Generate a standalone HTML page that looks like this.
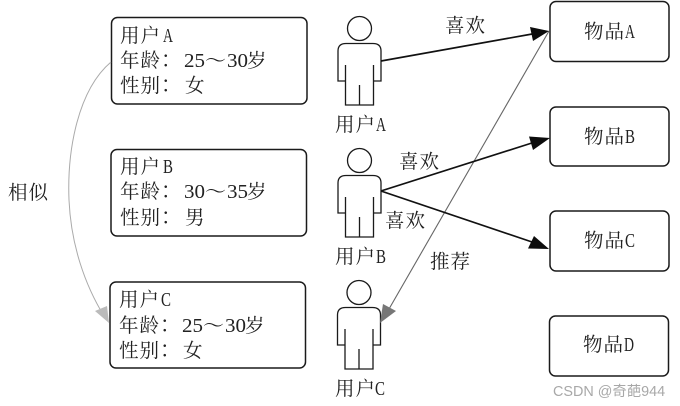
<!DOCTYPE html>
<html><head><meta charset="utf-8"><style>
html,body{margin:0;padding:0;background:#fff}
svg{display:block}
text{font-family:"Noto Serif CJK SC","Liberation Serif",serif;font-size:19.500px;fill:#222;filter:blur(.2px)}
.l{font-family:"Liberation Serif",serif;font-size:20.500px}
.c{font-family:"Noto Serif CJK TC",serif}
rect{fill:#fff;stroke:#1a1a1a;stroke-width:1.5}
.p{fill:#fff;stroke:#1a1a1a;stroke-width:1.300}
</style></head><body>
<svg width="680" height="406" viewBox="0 0 680 406" xmlns="http://www.w3.org/2000/svg">
<defs>
<g id="person">
<circle cx="359.500" cy="28.500" r="12"/>
<path d="M345 81H338V51Q338 43.500 346 43.500H373Q381 43.500 381 51V81H373.500"/>
<path d="M345.500 65V105H373.500V65M359.500 85V105"/>
</g>
</defs>
<rect x="111.500" y="17.500" width="195.500" height="86.500" rx="6"/>
<rect x="111" y="149.500" width="195.500" height="86.500" rx="6"/>
<rect x="110" y="282" width="195.500" height="86" rx="6"/>
<rect x="550" y="1.500" width="119" height="60" rx="6"/>
<rect x="550" y="107" width="119" height="59" rx="6"/>
<rect x="550" y="211" width="119" height="60" rx="6"/>
<rect x="549.500" y="316" width="119" height="60" rx="6"/>

<use href="#person" class="p"/>
<use href="#person" class="p" y="132"/>
<use href="#person" class="p" x="-.5" y="264"/>

<path d="M111 62C78 90 67 150 69 200C71 245 85 285 104 316" fill="none" stroke="#aaa" stroke-width="1"/>
<path d="M109 323L95 311L107 306Z" fill="#bbb"/>
<path d="M549 31L389 309" fill="none" stroke="#666" stroke-width="1.100"/>
<path d="M380 323L383 304L396 311Z" fill="#777"/>
<path d="M381 61L535 33.500" stroke="#111" stroke-width="1.700" fill="none"/>
<path d="M549 31L530 27L533 41Z" fill="#0c0c0c"/>
<path d="M381 191L535 142" stroke="#111" stroke-width="1.700" fill="none"/>
<path d="M550 138L529 136.500L533 150Z" fill="#0c0c0c"/>
<path d="M381 191L535 243" stroke="#111" stroke-width="1.700" fill="none"/>
<path d="M549 249L528 248.500L534 236Z" fill="#0c0c0c"/>

<text x="120" y="42" letter-spacing="1">用户</text><text class="l" x="163" y="42" textLength="10" lengthAdjust="spacingAndGlyphs">A</text>
<text x="120" y="67" letter-spacing="1">年龄</text><text class="c" x="156" y="67">：</text><text class="l" x="184" y="67" textLength="21" lengthAdjust="spacingAndGlyphs">25</text><text x="205" y="67" textLength="21" lengthAdjust="spacingAndGlyphs">～</text><text class="l" x="227" y="67" textLength="21" lengthAdjust="spacingAndGlyphs">30</text><text x="247" y="67">岁</text>
<text x="120" y="92" letter-spacing="1">性别</text><text class="c" x="156" y="92">：</text><text x="185" y="92">女</text>

<text x="120" y="173" letter-spacing="1">用户</text><text class="l" x="163" y="173" textLength="10" lengthAdjust="spacingAndGlyphs">B</text>
<text x="120" y="198" letter-spacing="1">年龄</text><text class="c" x="156" y="198">：</text><text class="l" x="184" y="198" textLength="21" lengthAdjust="spacingAndGlyphs">30</text><text x="205" y="198" textLength="21" lengthAdjust="spacingAndGlyphs">～</text><text class="l" x="227" y="198" textLength="21" lengthAdjust="spacingAndGlyphs">35</text><text x="247" y="198">岁</text>
<text x="120" y="224" letter-spacing="1">性别</text><text class="c" x="156" y="224">：</text><text x="185" y="224">男</text>

<text x="119" y="306" letter-spacing="1">用户</text><text class="l" x="161" y="306" textLength="10" lengthAdjust="spacingAndGlyphs">C</text>
<text x="119" y="332" letter-spacing="1">年龄</text><text class="c" x="155" y="332">：</text><text class="l" x="182" y="332" textLength="21" lengthAdjust="spacingAndGlyphs">25</text><text x="203" y="332" textLength="21" lengthAdjust="spacingAndGlyphs">～</text><text class="l" x="225" y="332" textLength="21" lengthAdjust="spacingAndGlyphs">30</text><text x="245" y="332">岁</text>
<text x="119" y="357" letter-spacing="1">性别</text><text class="c" x="155" y="357">：</text><text x="183" y="357">女</text>

<text x="8" y="199" letter-spacing="1">相似</text>
<text x="335" y="131" letter-spacing="1">用户</text><text class="l" x="376" y="131" textLength="10" lengthAdjust="spacingAndGlyphs">A</text>
<text x="335" y="263" letter-spacing="1">用户</text><text class="l" x="376" y="263" textLength="10" lengthAdjust="spacingAndGlyphs">B</text>
<text x="335" y="395" letter-spacing="1">用户</text><text class="l" x="375" y="395" textLength="10" lengthAdjust="spacingAndGlyphs">C</text>
<text x="445" y="32" letter-spacing="1">喜欢</text>
<text x="399" y="168" letter-spacing="1">喜欢</text>
<text x="385" y="227" letter-spacing="1">喜欢</text>
<text x="430" y="268" letter-spacing="1">推荐</text>
<text x="584" y="38" letter-spacing="1">物品</text><text class="l" x="625" y="38" textLength="10" lengthAdjust="spacingAndGlyphs">A</text>
<text x="584" y="143" letter-spacing="1">物品</text><text class="l" x="625" y="143" textLength="10" lengthAdjust="spacingAndGlyphs">B</text>
<text x="584" y="247" letter-spacing="1">物品</text><text class="l" x="625" y="247" textLength="10" lengthAdjust="spacingAndGlyphs">C</text>
<text x="583" y="351" letter-spacing="1">物品</text><text class="l" x="624" y="351" textLength="10" lengthAdjust="spacingAndGlyphs">D</text>
<text x="553" y="396" style="font-family:'Liberation Sans','Noto Sans CJK SC',sans-serif;font-size:14.400px;fill:#a8a8a8">CSDN @奇葩944</text>
</svg>
</body></html>
